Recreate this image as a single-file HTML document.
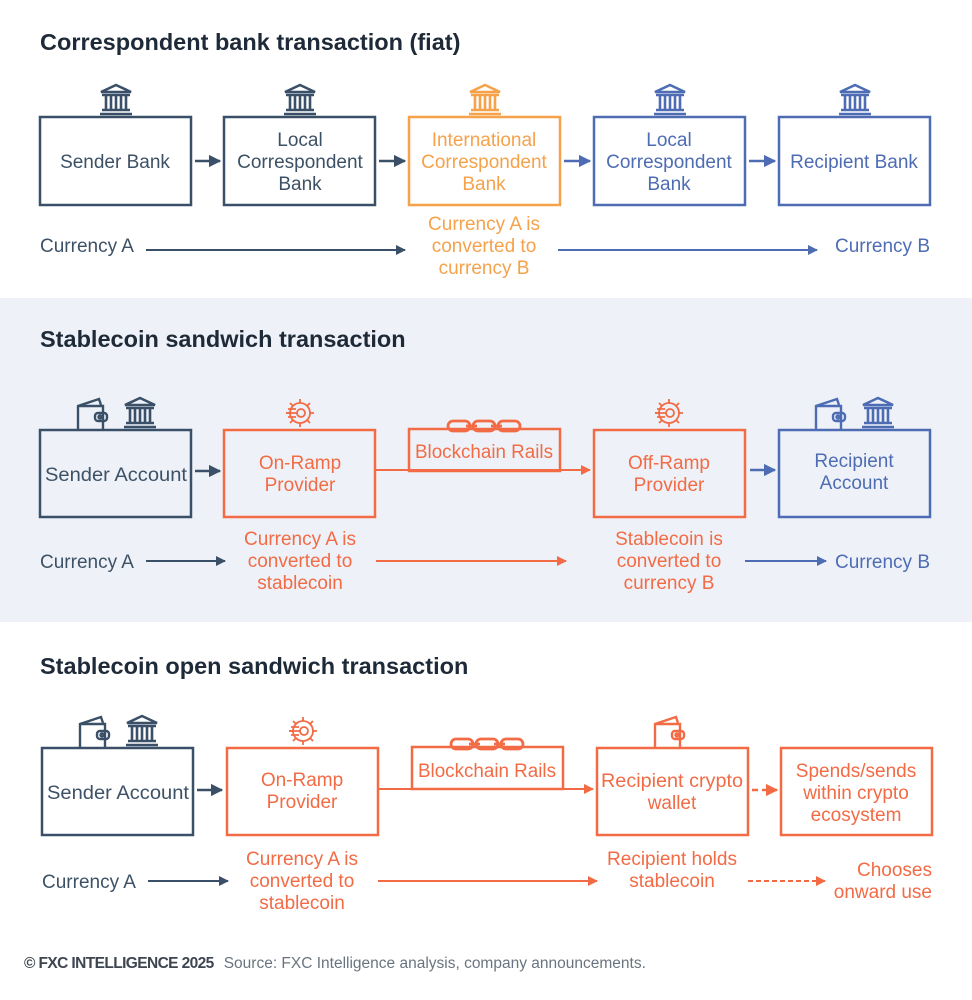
<!DOCTYPE html>
<html><head><meta charset="utf-8"><style>
html,body{margin:0;padding:0;background:#fff}
svg{display:block}
text{font-family:"Liberation Sans",sans-serif}
</style></head><body>
<svg width="972" height="1000" viewBox="0 0 972 1000" xmlns="http://www.w3.org/2000/svg">
<defs>
<symbol id="bank" viewBox="0 0 36 34">
<g fill="none" stroke="currentColor" stroke-width="2.6"><path d="M3 9 L18 2 L33 9 Z"/><path d="M4 12 H32 M4 27 H32 M2 31 H34"/><path d="M8 13 V26 M13 13 V26 M18 13 V26 M23 13 V26 M28 13 V26"/></g>
</symbol>
<symbol id="wallet" viewBox="0 0 34 34">
<g fill="none" stroke="currentColor" stroke-width="2.4"><path d="M3 33 V9 L24 2 L26 8"/><path d="M3 9 H28 V33"/><rect x="20" y="16" width="12" height="8" rx="3"/><circle cx="25" cy="20" r="1.5"/></g>
</symbol>
<symbol id="gear" viewBox="0 0 34 34">
<g fill="none" stroke="currentColor" stroke-width="1.8"><circle cx="18" cy="17" r="10"/><path d="M18 3 V7 M18 27 V31 M4 17 H8 M28 17 H32 M8 7 L11 10 M25 24 L28 27 M28 7 L25 10 M8 27 L11 24"/><path d="M6 13 H14 M4 17 H16 M6 21 H14"/><circle cx="19" cy="17" r="4"/></g>
</symbol>
<symbol id="chain" viewBox="0 0 76 16">
<g fill="none" stroke="currentColor" stroke-width="2.8"><rect x="2" y="3" width="22" height="10" rx="5"/><rect x="27" y="3" width="22" height="10" rx="5"/><rect x="52" y="3" width="22" height="10" rx="5"/><path d="M20 8 H31 M45 8 H56"/></g>
</symbol>
<marker id="an" viewBox="0 0 10 10" refX="9" refY="5" markerWidth="5" markerHeight="5" orient="auto"><path d="M0 0 L10 5 L0 10 Z" fill="#3a5068"/></marker>
<marker id="ab" viewBox="0 0 10 10" refX="9" refY="5" markerWidth="5" markerHeight="5" orient="auto"><path d="M0 0 L10 5 L0 10 Z" fill="#4d6cb3"/></marker>
<marker id="ac" viewBox="0 0 10 10" refX="9" refY="5" markerWidth="5" markerHeight="5" orient="auto"><path d="M0 0 L10 5 L0 10 Z" fill="#f26b45"/></marker>
</defs>

<rect x="0" y="298" width="972" height="324" fill="#eef2f8"/>

<!-- Section 1 -->
<text x="40" y="50" font-size="23.5" font-weight="bold" fill="#1e2a38">Correspondent bank transaction (fiat)</text>
<g fill="none" stroke-width="2.5">
<rect x="40" y="117" width="151" height="88" stroke="#3a5068"/>
<rect x="224" y="117" width="151" height="88" stroke="#3a5068"/>
<rect x="409" y="117" width="151" height="88" stroke="#f5a24b"/>
<rect x="594" y="117" width="151" height="88" stroke="#4d6cb3"/>
<rect x="779" y="117" width="151" height="88" stroke="#4d6cb3"/>
</g>
<use href="#bank" x="97" y="83" width="38" height="34" style="color:#3a5068"/>
<use href="#bank" x="281" y="83" width="38" height="34" style="color:#3a5068"/>
<use href="#bank" x="466" y="83" width="38" height="34" style="color:#f5a24b"/>
<use href="#bank" x="651" y="83" width="38" height="34" style="color:#4d6cb3"/>
<use href="#bank" x="836" y="83" width="38" height="34" style="color:#4d6cb3"/>
<g stroke-width="2.5">
<line x1="195" y1="161" x2="220" y2="161" stroke="#3a5068" marker-end="url(#an)"/>
<line x1="379" y1="161" x2="405" y2="161" stroke="#3a5068" marker-end="url(#an)"/>
<line x1="564" y1="161" x2="590" y2="161" stroke="#4d6cb3" marker-end="url(#ab)"/>
<line x1="749" y1="161" x2="775" y2="161" stroke="#4d6cb3" marker-end="url(#ab)"/>
<line x1="146" y1="250" x2="405" y2="250" stroke="#3a5068" stroke-width="2" marker-end="url(#an)"/>
<line x1="558" y1="250" x2="817" y2="250" stroke="#4d6cb3" stroke-width="2" marker-end="url(#ab)"/>
</g>
<g font-size="19" text-anchor="middle">
<text x="115" y="168" fill="#3d5166">Sender Bank</text>
<text x="300" y="146" fill="#3d5166">Local</text>
<text x="300" y="168" fill="#3d5166">Correspondent</text>
<text x="300" y="190" fill="#3d5166">Bank</text>
<text x="484" y="146" fill="#f5a24b">International</text>
<text x="484" y="168" fill="#f5a24b">Correspondent</text>
<text x="484" y="190" fill="#f5a24b">Bank</text>
<text x="669" y="146" fill="#4d6cb3">Local</text>
<text x="669" y="168" fill="#4d6cb3">Correspondent</text>
<text x="669" y="190" fill="#4d6cb3">Bank</text>
<text x="854" y="168" fill="#4d6cb3">Recipient Bank</text>
<text x="484" y="230" fill="#f5a24b">Currency A is</text>
<text x="484" y="252" fill="#f5a24b">converted to</text>
<text x="484" y="274" fill="#f5a24b">currency B</text>
</g>
<text x="40" y="252" font-size="19" fill="#3d5166">Currency A</text>
<text x="930" y="252" font-size="19" fill="#4d6cb3" text-anchor="end">Currency B</text>

<!-- Section 2 -->
<text x="40" y="347" font-size="23.5" font-weight="bold" fill="#1e2a38">Stablecoin sandwich transaction</text>
<g fill="none" stroke-width="2.5">
<rect x="40" y="430" width="151" height="87" stroke="#3a5068"/>
<rect x="224" y="430" width="151" height="87" stroke="#f26b45"/>
<rect x="409" y="429" width="151" height="42" stroke="#f26b45"/>
<rect x="594" y="430" width="151" height="87" stroke="#f26b45"/>
<rect x="779" y="430" width="151" height="87" stroke="#4d6cb3"/>
</g>
<use href="#wallet" x="75" y="397" width="34" height="34" style="color:#3a5068"/>
<use href="#bank" x="121" y="396" width="38" height="34" style="color:#3a5068"/>
<use href="#gear" x="282" y="396" width="34" height="34" style="color:#f26b45"/>
<use href="#chain" x="446" y="418" width="76" height="16" style="color:#f26b45"/>
<use href="#gear" x="651" y="396" width="34" height="34" style="color:#f26b45"/>
<use href="#wallet" x="813" y="397" width="34" height="34" style="color:#4d6cb3"/>
<use href="#bank" x="859" y="396" width="38" height="34" style="color:#4d6cb3"/>
<g stroke-width="2.5">
<line x1="195" y1="471" x2="220" y2="471" stroke="#3a5068" marker-end="url(#an)"/>
<line x1="376" y1="470" x2="590" y2="470" stroke="#f26b45" stroke-width="2" marker-end="url(#ac)"/>
<line x1="750" y1="470" x2="775" y2="470" stroke="#4d6cb3" marker-end="url(#ab)"/>
<line x1="146" y1="561" x2="225" y2="561" stroke="#3a5068" stroke-width="2" marker-end="url(#an)"/>
<line x1="376" y1="561" x2="566" y2="561" stroke="#f26b45" stroke-width="2" marker-end="url(#ac)"/>
<line x1="745" y1="561" x2="826" y2="561" stroke="#4d6cb3" stroke-width="2" marker-end="url(#ab)"/>
</g>
<g font-size="19" text-anchor="middle">
<text x="116" y="481" fill="#3d5166" textLength="142" lengthAdjust="spacingAndGlyphs">Sender Account</text>
<text x="300" y="469" fill="#f26b45">On-Ramp</text>
<text x="300" y="491" fill="#f26b45">Provider</text>
<text x="484" y="458" fill="#f26b45" textLength="138" lengthAdjust="spacingAndGlyphs">Blockchain Rails</text>
<text x="669" y="469" fill="#f26b45">Off-Ramp</text>
<text x="669" y="491" fill="#f26b45">Provider</text>
<text x="854" y="467" fill="#4d6cb3">Recipient</text>
<text x="854" y="489" fill="#4d6cb3">Account</text>
<text x="300" y="545" fill="#f26b45">Currency A is</text>
<text x="300" y="567" fill="#f26b45">converted to</text>
<text x="300" y="589" fill="#f26b45">stablecoin</text>
<text x="669" y="545" fill="#f26b45">Stablecoin is</text>
<text x="669" y="567" fill="#f26b45">converted to</text>
<text x="669" y="589" fill="#f26b45">currency B</text>
</g>
<text x="40" y="568" font-size="19" fill="#3d5166">Currency A</text>
<text x="930" y="568" font-size="19" fill="#4d6cb3" text-anchor="end">Currency B</text>

<!-- Section 3 -->
<text x="40" y="674" font-size="23.5" font-weight="bold" fill="#1e2a38">Stablecoin open sandwich transaction</text>
<g fill="none" stroke-width="2.5">
<rect x="42" y="748" width="151" height="87" stroke="#3a5068"/>
<rect x="227" y="748" width="151" height="87" stroke="#f26b45"/>
<rect x="412" y="747" width="151" height="42" stroke="#f26b45"/>
<rect x="597" y="748" width="151" height="87" stroke="#f26b45"/>
<rect x="781" y="748" width="151" height="87" stroke="#f26b45"/>
</g>
<use href="#wallet" x="77" y="715" width="34" height="34" style="color:#3a5068"/>
<use href="#bank" x="123" y="714" width="38" height="34" style="color:#3a5068"/>
<use href="#gear" x="285" y="714" width="34" height="34" style="color:#f26b45"/>
<use href="#chain" x="449" y="736" width="76" height="16" style="color:#f26b45"/>
<use href="#wallet" x="652" y="715" width="34" height="34" style="color:#f26b45"/>
<g stroke-width="2.5">
<line x1="197" y1="790" x2="222" y2="790" stroke="#3a5068" marker-end="url(#an)"/>
<line x1="379" y1="789" x2="593" y2="789" stroke="#f26b45" stroke-width="2" marker-end="url(#ac)"/>
<line x1="752" y1="790" x2="777" y2="790" stroke="#f26b45" stroke-dasharray="6 4" marker-end="url(#ac)"/>
<line x1="148" y1="881" x2="228" y2="881" stroke="#3a5068" stroke-width="2" marker-end="url(#an)"/>
<line x1="378" y1="881" x2="597" y2="881" stroke="#f26b45" stroke-width="2" marker-end="url(#ac)"/>
<line x1="748" y1="881" x2="825" y2="881" stroke="#f26b45" stroke-width="2" stroke-dasharray="5 3" marker-end="url(#ac)"/>
</g>
<g font-size="19" text-anchor="middle">
<text x="118" y="799" fill="#3d5166" textLength="142" lengthAdjust="spacingAndGlyphs">Sender Account</text>
<text x="302" y="786" fill="#f26b45">On-Ramp</text>
<text x="302" y="808" fill="#f26b45">Provider</text>
<text x="487" y="777" fill="#f26b45" textLength="138" lengthAdjust="spacingAndGlyphs">Blockchain Rails</text>
<text x="672" y="787" fill="#f26b45" textLength="142" lengthAdjust="spacingAndGlyphs">Recipient crypto</text>
<text x="672" y="809" fill="#f26b45">wallet</text>
<text x="856" y="777" fill="#f26b45">Spends/sends</text>
<text x="856" y="799" fill="#f26b45">within crypto</text>
<text x="856" y="821" fill="#f26b45">ecosystem</text>
<text x="302" y="865" fill="#f26b45">Currency A is</text>
<text x="302" y="887" fill="#f26b45">converted to</text>
<text x="302" y="909" fill="#f26b45">stablecoin</text>
<text x="672" y="865" fill="#f26b45">Recipient holds</text>
<text x="672" y="887" fill="#f26b45">stablecoin</text>
</g>
<text x="42" y="888" font-size="19" fill="#3d5166">Currency A</text>
<text x="932" y="876" font-size="19" fill="#f26b45" text-anchor="end">Chooses</text>
<text x="932" y="898" font-size="19" fill="#f26b45" text-anchor="end">onward use</text>

<!-- Footer -->
<text x="24" y="968" font-size="15.5" fill="#3d4550"><tspan font-weight="bold" letter-spacing="-0.6">© FXC INTELLIGENCE 2025</tspan><tspan dx="10" fill="#6a7480">Source: FXC Intelligence analysis, company announcements.</tspan></text>
</svg>
</body></html>
